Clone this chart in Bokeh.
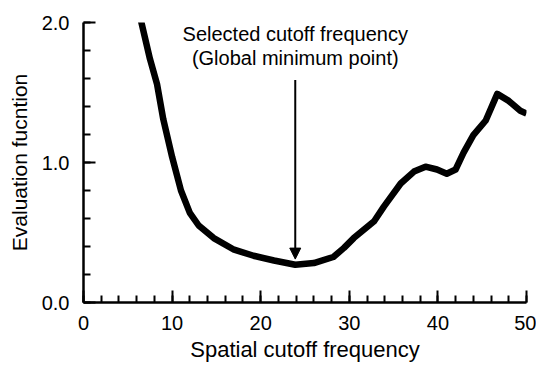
from bokeh.plotting import figure
from bokeh.models import SingleIntervalTicker, Arrow, NormalHead, Range1d, CustomJSTickFormatter
from bokeh.core.properties import value
from bokeh.embed import file_html
from bokeh.resources import INLINE

# data
freq = [6.5, 7.5, 8.3, 9.0, 10.0, 11.0, 12.0, 13.0, 14.7, 17.0, 19.2, 21.5, 23.9,
        26.0, 28.2, 29.4, 30.5, 32.8, 33.9, 35.8, 37.3, 38.6, 39.9, 41.0, 42.0,
        42.9, 44.0, 45.4, 46.7, 48.0, 49.3, 50.0]
evalf = [2.01, 1.74, 1.56, 1.31, 1.04, 0.80, 0.64, 0.55, 0.46, 0.377, 0.334, 0.30, 0.27,
         0.282, 0.325, 0.39, 0.46, 0.58, 0.685, 0.85, 0.935, 0.97, 0.95, 0.92, 0.95,
         1.07, 1.195, 1.30, 1.49, 1.44, 1.37, 1.35]
x_ticks = [0, 10, 20, 30, 40, 50]
y_ticks = [0.0, 1.0, 2.0]
min_x = 23.9
arrow_top = 1.59
arrow_tip = 0.31
note_lines = ["Selected cutoff frequency", "(Global minimum point)"]
note_y = [1.92, 1.745]

FONT = "Liberation Sans"

p = figure(width=536, height=364, output_backend="svg", toolbar_location=None,
           x_range=Range1d(0, 50), y_range=Range1d(0, 2.0),
           min_border_left=83, min_border_right=10, min_border_top=22, min_border_bottom=57)
p.outline_line_color = None
p.grid.grid_line_color = None
p.background_fill_color = "white"
p.border_fill_color = "white"

p.xaxis.ticker = SingleIntervalTicker(interval=10, num_minor_ticks=5)
p.yaxis.ticker = SingleIntervalTicker(interval=1, num_minor_ticks=5)
p.yaxis.formatter = CustomJSTickFormatter(code="return tick.toFixed(1);")

for ax in (p.xaxis[0], p.yaxis[0]):
    ax.axis_line_width = 2.5
    ax.axis_line_color = "black"
    ax.major_tick_in = 12
    ax.major_tick_out = 0
    ax.minor_tick_in = 7
    ax.minor_tick_out = 0
    ax.major_tick_line_width = 2
    ax.minor_tick_line_width = 2
    ax.major_tick_line_color = "black"
    ax.minor_tick_line_color = "black"
    ax.major_label_text_font = FONT
    ax.major_label_text_font_size = "20px"
    ax.major_label_text_color = "black"
    ax.axis_label_text_font = FONT
    ax.axis_label_text_font_style = "normal"
    ax.axis_label_text_color = "black"

p.xaxis.axis_label = "Spatial cutoff frequency"
p.yaxis.axis_label = "Evaluation fucntion"
p.xaxis.axis_label_text_font_size = "22px"
p.yaxis.axis_label_text_font_size = "21px"
p.xaxis.major_label_standoff = 13
p.yaxis.major_label_standoff = 14
p.xaxis.axis_label_standoff = 4
p.yaxis.axis_label_standoff = 8

p.line(freq, evalf, line_width=6.5, line_color="black", line_join="round")

p.add_layout(Arrow(end=NormalHead(size=11, fill_color="black", line_color="black", line_width=1),
                   x_start=min_x, y_start=arrow_top, x_end=min_x, y_end=arrow_tip,
                   line_width=2, line_color="black"))

p.text(x=[min_x, min_x], y=note_y, text=note_lines, text_align="center",
       text_baseline="middle", text_font=value(FONT), text_font_size="20px",
       text_color="black")

open("out.html", "w").write(file_html(p, INLINE))
